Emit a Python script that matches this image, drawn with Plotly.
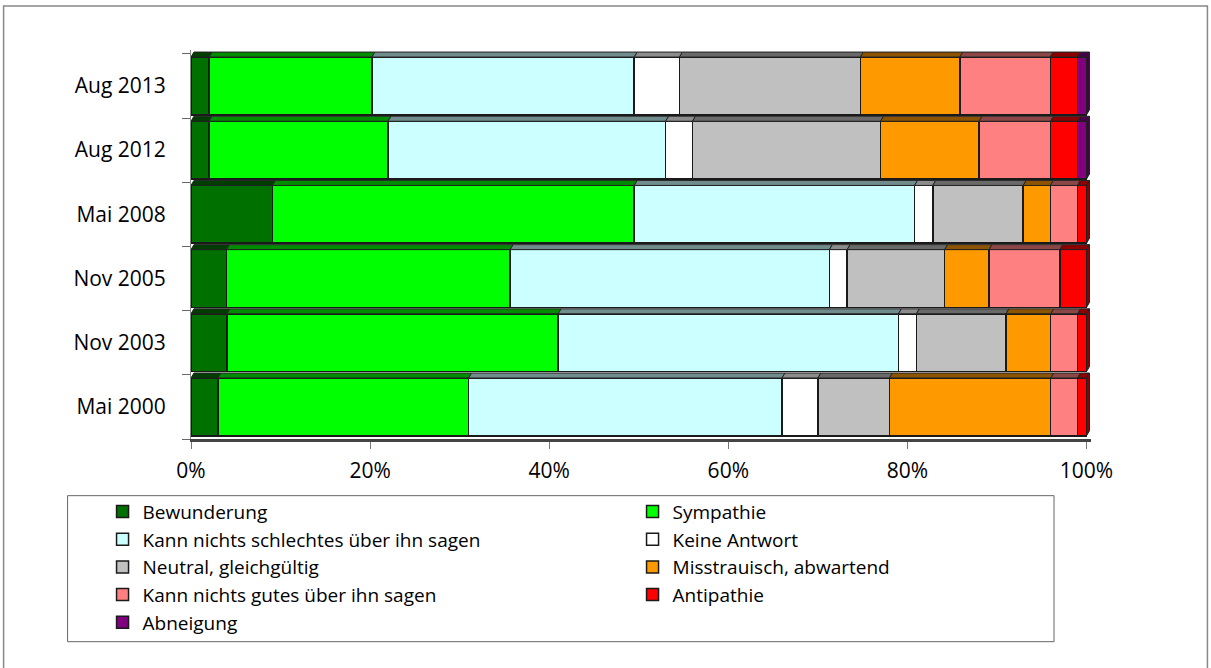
import plotly.graph_objects as go

categories = ["Mai 2000", "Nov 2003", "Nov 2005", "Mai 2008", "Aug 2012", "Aug 2013"]
series_names = [
    "Bewunderung", "Sympathie", "Kann nichts schlechtes über ihn sagen", "Keine Antwort",
    "Neutral, gleichgültig", "Misstrauisch, abwartend", "Kann nichts gutes über ihn sagen",
    "Antipathie", "Abneigung",
]
bewunderung = [3, 4, 4, 9, 2, 2]
sympathie = [28, 37, 32, 40, 20, 18]
nichts_schlechtes = [35, 38, 36, 31, 31, 29]
keine_antwort = [4, 2, 2, 2, 3, 5]
neutral = [8, 10, 11, 10, 21, 20]
misstrauisch = [18, 5, 5, 3, 11, 11]
nichts_gutes = [3, 3, 8, 3, 8, 10]
antipathie = [1, 1, 3, 1, 3, 3]
abneigung = [0, 0, 0, 0, 1, 1]
series_values = [bewunderung, sympathie, nichts_schlechtes, keine_antwort, neutral,
                 misstrauisch, nichts_gutes, antipathie, abneigung]
colors = ["#007000", "#00FF00", "#CCFFFF", "#FFFFFF", "#C0C0C0",
          "#FF9900", "#FF8080", "#FF0000", "#800080"]
x_ticks = [0, 20, 40, 60, 80, 100]

FONT = "Open Sans"
W, H = 1211, 668
L, PW = 190.5, 900.5
TOP, PH = 50.45, 388.9
BOTTOM = TOP + PH


def px(x):
    return (x - L) / PW


def py(y):
    return (BOTTOM - y) / PH


def darker(hexcol, f=0.55):
    h = hexcol.lstrip("#")
    r, g, b = (int(h[i:i + 2], 16) for i in (0, 2, 4))
    return "rgb(%d,%d,%d)" % (r * f, g * f, b * f)


ypos = list(range(len(categories)))
totals = [sum(s[i] for s in series_values) for i in ypos]
pct = [[v / totals[i] * 100 for i, v in enumerate(s)] for s in series_values]

BAR_W = 0.9
fig = go.Figure()
for name, vals, col in zip(series_names, pct, colors):
    fig.add_trace(go.Bar(
        y=ypos, x=vals, name=name, orientation="h", width=BAR_W,
        marker=dict(color=col, line=dict(color="#1a1a1a", width=1.5)),
        hoverinfo="skip",
    ))

# 3D top faces and side faces (computed from the data)
dx, dy = 0.33, 0.078
shapes = []
for i in ypos:
    left = 0.0
    ytop = i + BAR_W / 2
    ybot = i - BAR_W / 2
    last_col = colors[0]
    for s, col in zip(pct, colors):
        v = s[i]
        if v <= 0:
            continue
        right = left + v
        shapes.append(dict(
            type="path", xref="x", yref="y", layer="above",
            path="M%f,%f L%f,%f L%f,%f L%f,%f Z" % (left, ytop, right, ytop, right + dx, ytop + dy, left + dx, ytop + dy),
            fillcolor=darker(col), line=dict(color="#222", width=1)))
        left = right
        last_col = col
    shapes.append(dict(
        type="path", xref="x", yref="y", layer="above",
        path="M%f,%f L%f,%f L%f,%f L%f,%f Z" % (left, ybot, left + dx, ybot + dy, left + dx, ytop + dy, left, ytop),
        fillcolor=darker(last_col), line=dict(color="#222", width=1)))

# legend frame and outer frame
shapes.append(dict(type="rect", xref="paper", yref="paper", x0=px(67), x1=px(1054), y0=py(642), y1=py(496),
                   line=dict(color="#666", width=1), layer="below"))
shapes.append(dict(type="rect", xref="paper", yref="paper", x0=px(3), x1=px(1207.5), y0=py(672), y1=py(6.5),
                   line=dict(color="#888", width=1.5), layer="below"))

fig.update_layout(
    width=W, height=H,
    margin=dict(l=L, r=W - L - PW, t=TOP, b=H - BOTTOM, pad=0, autoexpand=False),
    barmode="stack",
    paper_bgcolor="white", plot_bgcolor="white",
    font=dict(family=FONT, color="black"),
    showlegend=True,
    legend=dict(
        orientation="h", x=px(102), xanchor="left", y=py(493), yanchor="top",
        entrywidth=485, entrywidthmode="pixels", itemwidth=30,
        font=dict(family=FONT, size=19, color="black"),
        bgcolor="rgba(0,0,0,0)", borderwidth=0, traceorder="normal",
        itemclick=False, itemdoubleclick=False,
    ),
    shapes=shapes,
    xaxis=dict(
        range=[0, 100.5], tickvals=x_ticks, ticktext=["%d%%" % t for t in x_ticks],
        showgrid=False, zeroline=False, showline=True, linecolor="#444", linewidth=3,
        ticks="outside", ticklen=7, tickcolor="#777", tickwidth=1,
        tickfont=dict(family=FONT, size=21, color="black"), ticklabelstandoff=4,
    ),
    yaxis=dict(
        range=[-0.5, 5.56], tickvals=ypos, ticktext=categories,
        showgrid=False, zeroline=False, showline=True, linecolor="#888", linewidth=1,
        ticks="", tickfont=dict(family=FONT, size=21, color="black"), ticklabelstandoff=20,
        minor=dict(tickvals=[i - 0.5 for i in range(len(categories) + 1)], ticks="outside",
                   ticklen=8, tickcolor="#666", tickwidth=1, showgrid=False),
    ),
)

fig.write_html("out.html", config={"displayModeBar": False},
               post_script="document.body.style.margin='0px';document.body.style.overflow='hidden';")
